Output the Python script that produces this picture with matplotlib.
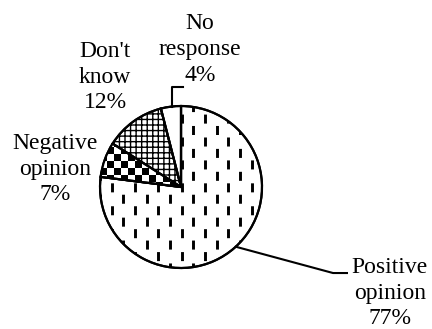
import numpy as np
import matplotlib
matplotlib.use("Agg")
import matplotlib.pyplot as plt
from matplotlib.patches import Wedge

plt.rcParams['font.family'] = ['Liberation Serif', 'DejaVu Serif']
plt.rcParams['lines.scale_dashes'] = False
plt.rcParams['hatch.linewidth'] = 1.0

# data
categories = ["Positive\nopinion", "Negative\nopinion", "Don't\nknow", "No\nresponse"]
shares = [77, 7, 12, 4]
pct_labels = ["77%", "7%", "12%", "4%"]

fig = plt.figure(figsize=(4.32, 3.29), dpi=100)
ax = fig.add_axes([0, 0, 1, 1])

wedges, _ = ax.pie(shares, startangle=90, counterclock=False, radius=1,
                   wedgeprops=dict(edgecolor='black', linewidth=1.5, facecolor='white'))

# positive: staggered vertical dashes
pos = wedges[0]
xs = np.arange(-1.0, 1.01, 0.144)
for i, x in enumerate(xs):
    off = 0 if i % 2 == 0 else 8.3
    ln, = ax.plot([x, x], [-1.05, 1.05], color='black', lw=2.1,
                  linestyle=(off, (6.5, 10)), zorder=2)
    ln.set_clip_path(pos)

# negative: checkerboard
neg = wedges[1]
step = 7 / 81
gx = np.arange(-1.0, 0.2, step)
gy = np.arange(-0.2, 1.0, step)
cz = (np.add.outer(np.arange(len(gy) - 1), np.arange(len(gx) - 1)) % 2)
mesh = ax.pcolormesh(gx, gy, cz, cmap='gray', zorder=2)
mesh.set_clip_path(neg)

# don't know: grid hatch
wedges[2].set_hatch('+++')

# outlines on top
for w in wedges:
    ax.add_patch(Wedge(w.center, w.r, w.theta1, w.theta2, facecolor='none',
                       edgecolor='black', linewidth=1.6, zorder=3))

fs = 17
kw = dict(ha='center', va='center', fontsize=fs, linespacing=1.3)
ax.text(2.58, -1.31, categories[0] + "\n" + pct_labels[0], **kw)
ax.text(-1.556, 0.222, categories[1] + "\n" + pct_labels[1], **kw)
ax.text(-0.938, 1.358, categories[2] + "\n" + pct_labels[2], **kw)
ax.text(0.235, 1.696, categories[3] + "\n" + pct_labels[3], **kw)

# leader lines
a = np.deg2rad(-47.5)
ax.plot([np.cos(a), 1.877, 2.049], [np.sin(a), -1.062, -1.062], color='black', lw=1.5)
ax.plot([-0.111, -0.111, 0.025], [0.994, 1.235, 1.235], color='black', lw=1.5)

ax.set_xlim(-2.235, 3.099)
ax.set_ylim(-1.753, 2.309)
ax.set_aspect('equal')
ax.axis('off')

fig.savefig('out.png', dpi=100)
